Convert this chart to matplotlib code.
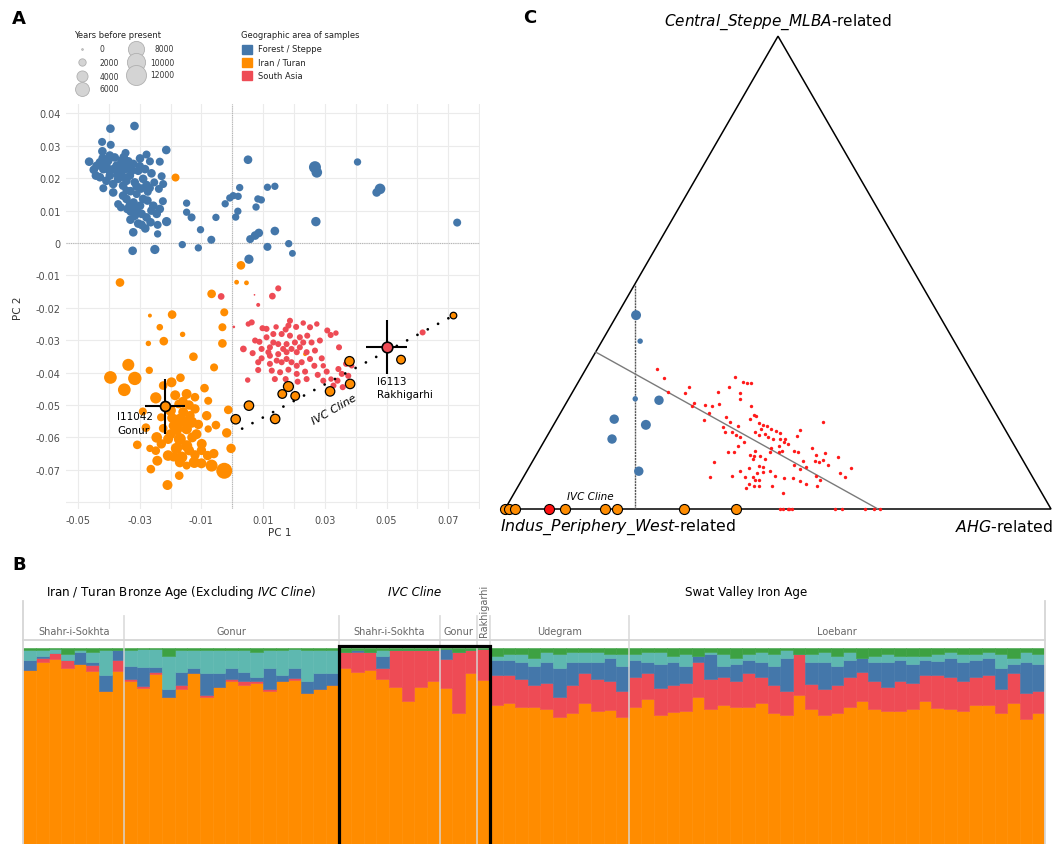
import numpy as np
import matplotlib
matplotlib.use("Agg")
import matplotlib.pyplot as plt
from matplotlib.patches import Rectangle, Polygon
from matplotlib.transforms import blended_transform_factory

W, H = 1055, 845
BLUE = "#4477aa"
ORANGE = "#ff8c00"
RED = "#ee4b55"
TEAL = "#5eb8b0"
GREEN = "#3da142"

# ---------------- panel A data: (PC1, PC2, years before present) ----------------
forest_steppe = [
    (-0.0395, 0.0353, 2600), (-0.0317, 0.0361, 2600), (-0.0422, 0.0312, 2300), (-0.0394, 0.0303, 2300),
    (-0.0421, 0.0283, 2600), (-0.0464, 0.0251, 2600), (-0.0214, 0.0287, 2600), (-0.0346, 0.0278, 2300),
    (-0.0278, 0.0273, 2300), (-0.0299, 0.0261, 2600), (-0.0235, 0.0251, 2300), (-0.0267, 0.0252, 2300),
    (-0.0449, 0.0226, 2600), (-0.0442, 0.0208, 2600), (-0.0408, 0.0239, 2600), (-0.0386, 0.0228, 2600),
    (-0.0364, 0.0218, 2600), (-0.0343, 0.0239, 2600), (-0.0321, 0.0244, 2600), (-0.0397, 0.0208, 2600),
    (-0.0370, 0.0198, 2600), (-0.0332, 0.0208, 2600), (-0.0289, 0.0198, 2600), (-0.0229, 0.0206, 2300),
    (-0.0418, 0.0169, 2300), (-0.0386, 0.0156, 2600), (-0.0343, 0.0162, 2300), (-0.0310, 0.0151, 2300),
    (-0.0274, 0.0158, 2300), (-0.0238, 0.0167, 2300), (-0.0224, 0.0182, 2300), (-0.0253, 0.0187, 2300),
    (-0.0370, 0.0120, 2300), (-0.0361, 0.0110, 2300), (-0.0332, 0.0117, 2600), (-0.0299, 0.0115, 2600),
    (-0.0275, 0.0131, 2600), (-0.0225, 0.0129, 2300), (-0.0329, 0.0097, 2600), (-0.0294, 0.0090, 2600),
    (-0.0245, 0.0090, 2600), (-0.0213, 0.0066, 2900), (-0.0330, 0.0072, 2600), (-0.0294, 0.0056, 2600),
    (-0.0265, 0.0064, 2600), (-0.0321, 0.0033, 2600), (-0.0242, 0.0028, 2000), (-0.0242, 0.0056, 2300),
    (-0.0323, -0.0024, 2600), (-0.0251, -0.0020, 2900), (-0.0148, 0.0123, 2000), (-0.0148, 0.0095, 2000),
    (-0.0132, 0.0079, 2300), (-0.0103, 0.0041, 2000), (-0.0053, 0.0079, 2000), (-0.0068, 0.0010, 2300),
    (-0.0162, -0.0005, 2000), (-0.0110, -0.0015, 2000), (0.0051, 0.0257, 2600), (0.0024, 0.0171, 2000),
    (-0.0023, 0.0121, 2000), (-0.0008, 0.0139, 2000), (0.0003, 0.0146, 2000), (0.0019, 0.0144, 2000),
    (0.0018, 0.0098, 2000), (0.0011, 0.0080, 2000), (0.0114, 0.0172, 2000), (0.0138, 0.0175, 2000),
    (0.0083, 0.0136, 2000), (0.0094, 0.0133, 2000), (0.0077, 0.0111, 2000), (0.0058, 0.0012, 2300),
    (0.0074, 0.0023, 2600), (0.0086, 0.0031, 2600), (0.0138, 0.0037, 2600), (0.0114, -0.0012, 2300),
    (0.0183, -0.0002, 2000), (0.0195, -0.0032, 1800), (0.0054, -0.0050, 2900), (0.0268, 0.0234, 4600),
    (0.0274, 0.0218, 3700), (0.0271, 0.0066, 3000), (0.0406, 0.0250, 2000), (0.0479, 0.0167, 3700),
    (0.0468, 0.0156, 2600), (0.0729, 0.0063, 2300),
    (-0.0429, 0.0249, 2600), (-0.0418, 0.0228, 2600), (-0.0402, 0.0254, 2600), (-0.0381, 0.0264, 2600),
    (-0.0359, 0.0254, 2600), (-0.0348, 0.0228, 2600), (-0.0326, 0.0223, 2600), (-0.0305, 0.0223, 2600),
    (-0.0283, 0.0228, 2600), (-0.0316, 0.0187, 2600), (-0.0354, 0.0177, 2600), (-0.0386, 0.0182, 2600),
    (-0.0408, 0.0192, 2600), (-0.0429, 0.0203, 2600), (-0.0310, 0.0175, 2600), (-0.0278, 0.0179, 2600),
    (-0.0343, 0.0192, 2600), (-0.0375, 0.0239, 2600), (-0.0397, 0.0270, 2600), (-0.0310, 0.0105, 2600),
    (-0.0316, 0.0084, 2600), (-0.0278, 0.0079, 2600), (-0.0343, 0.0136, 2600), (-0.0354, 0.0146, 2600),
    (-0.0256, 0.0115, 2600), (-0.0289, 0.0136, 2600), (-0.0235, 0.0105, 2600),
    (-0.0440, 0.0238, 2600), (-0.0420, 0.0262, 2600), (-0.0365, 0.0240, 2600), (-0.0352, 0.0265, 2600),
    (-0.0337, 0.0252, 2600), (-0.0300, 0.0237, 2600), (-0.0262, 0.0215, 2600), (-0.0372, 0.0212, 2600),
    (-0.0355, 0.0205, 2600), (-0.0296, 0.0168, 2600), (-0.0268, 0.0170, 2600), (-0.0320, 0.0125, 2600),
    (-0.0340, 0.0105, 2600), (-0.0262, 0.0100, 2600), (-0.0305, 0.0060, 2600), (-0.0282, 0.0045, 2600),
    (-0.0400, 0.0225, 2600), (-0.0330, 0.0160, 2600),
]

iran_turan = [
    (-0.0184, 0.0202, 2300), (-0.0364, -0.0122, 2600), (0.0028, -0.0069, 2600), (0.0014, -0.0121, 1100),
    (0.0046, -0.0123, 1100), (-0.0067, -0.0157, 2600), (-0.0195, -0.0221, 2600), (-0.0267, -0.0224, 900),
    (-0.0235, -0.0260, 1700), (-0.0026, -0.0214, 2300), (-0.0032, -0.0260, 2300), (0.0236, -0.0343, 900),
    (-0.0222, -0.0303, 2600), (-0.0161, -0.0282, 1300), (-0.0272, -0.0310, 1300), (-0.0126, -0.0351, 2600),
    (-0.0337, -0.0376, 4600), (-0.0269, -0.0393, 2000), (-0.0395, -0.0415, 5100), (-0.0316, -0.0418, 5600),
    (-0.0350, -0.0453, 5100), (-0.0224, -0.0440, 2600), (-0.0168, -0.0416, 2600), (-0.0197, -0.0430, 3300),
    (-0.0059, -0.0384, 2300), (-0.0032, -0.0310, 2600), (-0.0090, -0.0448, 2600), (-0.0248, -0.0478, 4100),
    (-0.0148, -0.0466, 3300), (-0.0121, -0.0476, 2600), (-0.0078, -0.0487, 2300), (-0.0174, -0.0497, 2600),
    (-0.0121, -0.0512, 3000), (-0.0200, -0.0517, 3700), (-0.0083, -0.0533, 3000), (-0.0231, -0.0538, 2300),
    (-0.0170, -0.0548, 5600), (-0.0132, -0.0553, 4100), (-0.0053, -0.0562, 2600), (-0.0078, -0.0574, 2000),
    (-0.0018, -0.0586, 3000), (-0.0224, -0.0572, 2600), (-0.0245, -0.0600, 3700), (-0.0208, -0.0605, 3300),
    (-0.0170, -0.0605, 4600), (-0.0116, -0.0590, 3300), (-0.0181, -0.0634, 4100), (-0.0148, -0.0626, 4100),
    (-0.0099, -0.0620, 3300), (-0.0308, -0.0623, 2600), (-0.0267, -0.0634, 2000), (-0.0248, -0.0641, 2600),
    (-0.0208, -0.0656, 3700), (-0.0164, -0.0661, 4100), (-0.0121, -0.0654, 3000), (-0.0080, -0.0656, 3000),
    (-0.0243, -0.0672, 3300), (-0.0170, -0.0677, 3300), (-0.0123, -0.0677, 4100), (-0.0067, -0.0687, 4600),
    (-0.0026, -0.0703, 7800), (-0.0148, -0.0687, 2300), (-0.0264, -0.0698, 2600), (-0.0172, -0.0718, 2600),
    (-0.0210, -0.0747, 3300), (-0.0013, -0.0515, 2600), (-0.0004, -0.0634, 3000), (-0.0181, -0.0574, 4600),
    (-0.0148, -0.0574, 3700), (-0.0159, -0.0522, 3300), (-0.0191, -0.0564, 3000), (-0.0137, -0.0533, 3000),
    (-0.0185, -0.0470, 3300), (-0.0160, -0.0490, 3300), (-0.0140, -0.0500, 3000), (-0.0195, -0.0540, 3300),
    (-0.0150, -0.0550, 3300), (-0.0110, -0.0560, 3000), (-0.0200, -0.0590, 3300), (-0.0130, -0.0600, 3300),
    (-0.0100, -0.0640, 3000), (-0.0190, -0.0660, 3000), (-0.0140, -0.0640, 3300), (-0.0100, -0.0680, 3300),
    (-0.0280, -0.0570, 2600), (-0.0290, -0.0520, 2300), (-0.0060, -0.0650, 3000), (-0.0230, -0.0620, 3000),
]

south_asia = [
    (0.0084, -0.0191, 900), (0.0063, -0.0245, 1500), (0.0052, -0.0250, 1300), (0.0098, -0.0263, 1500),
    (0.0142, -0.0259, 1300), (0.0173, -0.0267, 1500), (0.0207, -0.0259, 1500), (0.0230, -0.0247, 1300),
    (0.0252, -0.0260, 1500), (0.0274, -0.0250, 1300), (0.0243, -0.0286, 1500), (0.0219, -0.0291, 1500),
    (0.0187, -0.0286, 1500), (0.0160, -0.0281, 1500), (0.0133, -0.0281, 1500), (0.0111, -0.0291, 1500),
    (0.0088, -0.0305, 1500), (0.0036, -0.0327, 1740), (0.0066, -0.0340, 1500), (0.0095, -0.0327, 1500),
    (0.0122, -0.0322, 1500), (0.0149, -0.0312, 1500), (0.0176, -0.0312, 1500), (0.0203, -0.0307, 1500),
    (0.0230, -0.0307, 1500), (0.0257, -0.0307, 1500), (0.0284, -0.0301, 1500), (0.0308, -0.0270, 1500),
    (0.0319, -0.0284, 1500), (0.0336, -0.0278, 1300), (0.0346, -0.0322, 1500), (0.0268, -0.0332, 1500),
    (0.0241, -0.0337, 1500), (0.0209, -0.0337, 1500), (0.0176, -0.0337, 1500), (0.0149, -0.0343, 1500),
    (0.0122, -0.0348, 1500), (0.0095, -0.0356, 1500), (0.0084, -0.0368, 1500), (0.0122, -0.0373, 1500),
    (0.0160, -0.0368, 1500), (0.0192, -0.0368, 1500), (0.0225, -0.0368, 1500), (0.0252, -0.0358, 1500),
    (0.0290, -0.0356, 1500), (0.0295, -0.0379, 1300), (0.0266, -0.0379, 1500), (0.0128, -0.0394, 1500),
    (0.0155, -0.0399, 1500), (0.0182, -0.0391, 1500), (0.0209, -0.0404, 1500), (0.0236, -0.0397, 1500),
    (0.0084, -0.0392, 1500), (0.0138, -0.0420, 1500), (0.0173, -0.0420, 1500), (0.0212, -0.0428, 1500),
    (0.0241, -0.0420, 1500), (0.0277, -0.0407, 1500), (0.0306, -0.0397, 1500), (0.0295, -0.0425, 1500),
    (0.0320, -0.0420, 1300), (0.0344, -0.0389, 1500), (0.0341, -0.0425, 1500), (0.0355, -0.0404, 1500),
    (0.0369, -0.0373, 1500), (0.0387, -0.0379, 1300), (0.0358, -0.0445, 1500), (0.0050, -0.0423, 1300),
    (0.0111, -0.0265, 1500), (0.0074, -0.0301, 1500), (0.0187, -0.0240, 1500), (0.0182, -0.0255, 1500),
    (0.0328, -0.0440, 1500), (0.0376, -0.0410, 1500), (0.0005, -0.0259, 650), (0.0133, -0.0307, 1500),
    (0.0165, -0.0327, 1500), (0.0192, -0.0327, 1500), (0.0219, -0.0322, 1500), (0.0144, -0.0363, 1500),
    (0.0176, -0.0358, 1500), (0.0209, -0.0379, 1500), (0.0117, -0.0337, 1500), (-0.0036, -0.0165, 1740),
    (0.0130, -0.0164, 1740), (0.0149, -0.0140, 1500), (0.0072, -0.0160, 100), (0.0617, -0.0276, 1500),
]

ivc_cline = [
    (0.0717, -0.0224, 1700), (0.0380, -0.0365, 3000), (0.0547, -0.0360, 2600), (0.0382, -0.0435, 3000),
    (0.0317, -0.0458, 3000), (0.0182, -0.0443, 3300), (0.0162, -0.0466, 2600), (0.0204, -0.0472, 2600),
    (0.0054, -0.0502, 3000), (0.0011, -0.0544, 3000), (0.0139, -0.0543, 3000),
]
cline_pc1 = [0.0032, 0.0717]
cline_pc2 = [-0.0573, -0.0224]

i11042 = (-0.0218, -0.0504, 3300)
i11042_err = (0.0065, 0.0084)
i6113 = (0.0500, -0.0320, 3700)
i6113_err = (0.0065, 0.0083)

legend_years = [0, 2000, 4000, 6000, 8000, 10000, 12000]
areas = ["Forest / Steppe", "Iran / Turan", "South Asia"]

# ---------------- panel C data: (Central_Steppe_MLBA, AHG) proportions ----------------
tern_blue = [(0.410, 0.035, 3300), (0.355, 0.070, 1300), (0.233, 0.122, 1300), (0.230, 0.167, 3000),
             (0.190, 0.105, 3000), (0.178, 0.169, 3300), (0.148, 0.122, 3000), (0.080, 0.205, 3000)]
tern_red = [
    (0.296, 0.130), (0.278, 0.152), (0.247, 0.175), (0.257, 0.209), (0.245, 0.207), (0.224, 0.234),
    (0.218, 0.233), (0.221, 0.255), (0.218, 0.271), (0.222, 0.280), (0.247, 0.267), (0.204, 0.272),
    (0.188, 0.271), (0.257, 0.282), (0.280, 0.281), (0.268, 0.301), (0.266, 0.310), (0.266, 0.318),
    (0.245, 0.307), (0.233, 0.314), (0.195, 0.308), (0.183, 0.320), (0.173, 0.313), (0.163, 0.322),
    (0.162, 0.335), (0.152, 0.355), (0.141, 0.367), (0.134, 0.360), (0.120, 0.360), (0.121, 0.347),
    (0.217, 0.342), (0.199, 0.356), (0.197, 0.361), (0.190, 0.354), (0.182, 0.375), (0.178, 0.383),
    (0.176, 0.391), (0.169, 0.385), (0.162, 0.377), (0.156, 0.388), (0.159, 0.397), (0.169, 0.403),
    (0.166, 0.413), (0.161, 0.423), (0.152, 0.406), (0.148, 0.417), (0.149, 0.430), (0.149, 0.438),
    (0.137, 0.450), (0.168, 0.456), (0.155, 0.457), (0.185, 0.489), (0.120, 0.442), (0.121, 0.477),
    (0.102, 0.495), (0.128, 0.498), (0.114, 0.513), (0.102, 0.517), (0.118, 0.527), (0.099, 0.525),
    (0.093, 0.545), (0.109, 0.556), (0.076, 0.576), (0.086, 0.591), (0.067, 0.590), (0.062, 0.546),
    (0.049, 0.546), (0.053, 0.525), (0.060, 0.510), (0.094, 0.482), (0.065, 0.478), (0.034, 0.493),
    (0.069, 0.460), (0.049, 0.465), (0.081, 0.444), (0.088, 0.429), (0.106, 0.424), (0.113, 0.411),
    (0.121, 0.425), (0.123, 0.396), (0.113, 0.399), (0.114, 0.391), (0.106, 0.402), (0.092, 0.420),
    (0.078, 0.434), (0.076, 0.423), (0.067, 0.421), (0.062, 0.427), (0.061, 0.435), (0.049, 0.440),
    (0.049, 0.431), (0.053, 0.420), (0.044, 0.419), (0.067, 0.406), (0.081, 0.389), (0.069, 0.381),
    (0.100, 0.333), (0.068, 0.341), (0.086, 0.404), (0.066, 0.494), (0.085, 0.498), (0.088, 0.507),
    (0.104, 0.531), (0.123, 0.468), (0.130, 0.423), (0.123, 0.446), (0.134, 0.434), (0.141, 0.440),
    (0.176, 0.339), (0.156, 0.345), (0.070, 0.534),
]
tern_red_base_ahg = [0.504, 0.510, 0.518, 0.521, 0.525, 0.605, 0.617, 0.659, 0.676, 0.686]
tern_orange_ahg = [0.0, 0.008, 0.018, 0.110, 0.183, 0.205, 0.328, 0.423]
tern_rakhigarhi_ahg = 0.081
tern_vline = [(0.0, 0.238), (0.476, 0.0)]
tern_fit = [(0.332, 0.0), (0.0, 0.683)]

# ---------------- panel B data: ancestry proportions per individual ----------------
site_names = ["Shahr-i-Sokhta", "Gonur", "Shahr-i-Sokhta", "Gonur", "Rakhigarhi", "Udegram", "Loebanr"]
site_counts = [8, 17, 8, 3, 1, 11, 33]
anc_orange = [
    .89, .93, .95, .90, .92, .89, .78, .89,
    .83, .80, .87, .75, .79, .87, .76, .80, .83, .81, .82, .78, .83, .84, .77, .79, .81,
    .90, .88, .89, .84, .80, .73, .80, .83,
    .80, .67, .87,
    .84,
    .71, .72, .70, .70, .69, .65, .67, .72, .68, .69, .65,
    .70, .74, .65, .68, .68, .75, .69, .71, .70, .70, .72, .67, .66, .76, .68, .66, .67,
    .70, .73, .69, .68, .68, .69, .73, .71, .69, .68, .71, .71, .67, .72, .64, .67,
]
anc_red = [
    0, .02, .03, .04, 0, .03, 0, .06,
    .01, .01, .01, 0, .02, 0, .01, 0, .01, .02, .01, .01, 0, .01, 0, 0, 0,
    .08, .10, .09, .06, .19, .26, .19, .16,
    .15, .31, .12,
    .16,
    .15, .14, .14, .11, .13, .10, .14, .15, .16, .15, .13,
    .15, .13, .14, .14, .14, .18, .15, .14, .13, .17, .13, .14, .12, .21, .13, .13, .14,
    .15, .15, .14, .12, .15, .13, .13, .17, .16, .15, .14, .15, .12, .15, .13, .11,
]
anc_blue = [
    .05, .01, 0, 0, .06, .02, .08, .05,
    .07, .10, .03, .04, .07, .03, .11, .07, .06, .05, .02, .11, .03, .05, .06, .08, .06,
    0, .01, 0, .06, 0, 0, 0, 0,
    .05, 0, 0,
    0,
    .08, .08, .09, .10, .11, .15, .12, .06, .09, .12, .13,
    .09, .06, .12, .12, .09, .03, .13, .06, .09, .07, .08, .10, .17, 0, .11, .14, .10,
    .09, .07, .10, .13, .11, .10, .08, .07, .10, .10, .09, .09, .11, .05, .16, .14,
]
anc_teal = [
    .05, .03, .02, .03, .01, .05, .13, 0,
    .08, .09, .09, .17, .11, .09, .12, .12, .09, .11, .13, .09, .13, .10, .16, .12, .12,
    0, 0, 0, .03, 0, 0, 0, 0,
    0, 0, 0,
    0,
    .02, .03, .04, .04, .05, .07, .05, .05, .05, .02, .06,
    .03, .05, .06, .03, .06, 0, .01, .06, .03, .03, .05, .06, .04, 0, .04, .05, .05,
    .04, 0, .03, .04, .02, .04, .02, .04, .03, .04, .03, .03, .07, .03, .05, .05,
]
anc_green = [
    .01, .01, .005, .03, .01, .02, .01, .01,
    .01, .005, .005, .04, .01, .01, .01, .01, .01, .01, .02, .01, .01, .005, .01, .01, .01,
    .02, .01, .02, .01, .01, .01, .01, .01,
    .005, .02, .01,
    .005,
    .04, .03, .03, .05, .02, .03, .02, .02, .02, .03, .03,
    .03, .02, .02, .04, .03, .04, .02, .03, .05, .03, .02, .03, .01, .03, .03, .02, .04,
    .02, .05, .04, .03, .04, .04, .04, .03, .02, .03, .03, .02, .03, .05, .02, .03,
]


def yrs_to_size(years):
    return np.maximum(0.018 * np.asarray(years, dtype=float) - 8, 1.5)


def fig_x(px):
    return px / W


def fig_y(py):
    return 1 - py / H


def tern_xy(steppe, ahg):
    steppe = np.asarray(steppe, dtype=float)
    ahg = np.asarray(ahg, dtype=float)
    return ahg + steppe / 2, steppe * np.sqrt(3) / 2


fig = plt.figure(figsize=(W / 100, H / 100), dpi=100)

# ======================= panel A =======================
axA = fig.add_axes([fig_x(66), fig_y(510), 414 / W, 405 / H])
axA.set_xlim(-0.0539, 0.0803)
axA.set_ylim(-0.0821, 0.0429)
axA.set_xticks([-0.05, -0.03, -0.01, 0.01, 0.03, 0.05, 0.07])
axA.set_xticks([-0.04, -0.02, 0.0, 0.02, 0.04, 0.06, 0.08], minor=True)
axA.set_xticklabels(["-0.05", "-0.03", "-0.01", "0.01", "0.03", "0.05", "0.07"])
yt = [0.04, 0.03, 0.02, 0.01, 0.0, -0.01, -0.02, -0.03, -0.04, -0.05, -0.06, -0.07, -0.08]
axA.set_yticks(yt)
axA.set_yticklabels(["0" if v == 0 else "%.2f" % v for v in yt[:-1]] + [""])
axA.tick_params(which="both", length=0, labelsize=7, labelcolor="#4d4d4d", pad=4)
axA.grid(True, which="both", color="#ebebeb", lw=0.8)
axA.set_axisbelow(True)
for s in axA.spines.values():
    s.set_visible(False)
axA.axvline(0, color="#b5b5b5", lw=0.8, ls=(0, (1, 1)), zorder=1)
axA.axhline(0, color="#b5b5b5", lw=0.8, ls=(0, (1, 1)), zorder=1)

for pts, col in [(forest_steppe, BLUE), (iran_turan, ORANGE), (south_asia, RED)]:
    a = np.array(pts)
    axA.scatter(a[:, 0], a[:, 1], s=yrs_to_size(a[:, 2]), color=col, lw=0, zorder=2)

cl = np.array(ivc_cline)
axA.scatter(cl[:, 0], cl[:, 1], s=yrs_to_size(cl[:, 2]), color=ORANGE, edgecolor="black", lw=0.9, zorder=4)
axA.plot(cline_pc1, cline_pc2, color="black", lw=2, ls=(0, (0.01, 4.2)), dash_capstyle="round", zorder=5)

for (px, py, yr), (ex, ey), col in [(i11042, i11042_err, ORANGE), (i6113, i6113_err, RED)]:
    axA.errorbar([px], [py], xerr=[ex], yerr=[ey], fmt="none", ecolor="black", elinewidth=1.5, capsize=0, zorder=6)
    axA.scatter([px], [py], s=yrs_to_size([yr]), color=col, edgecolor="black", lw=1.2, zorder=7)

axA.text(-0.0374, -0.0519, "I11042\nGonur", fontsize=7.5, va="top", ha="left", linespacing=1.45, zorder=8)
axA.text(0.0468, -0.0410, "I6113\nRakhigarhi", fontsize=7.5, va="top", ha="left", linespacing=1.45, zorder=8)
axA.text(0.0331, -0.0512, "IVC Cline", fontsize=8, style="italic", rotation=30, ha="center", va="center", zorder=8)

fig.text(fig_x(280), fig_y(533), "PC 1", fontsize=7.5, color="#333333", ha="center", va="center")
fig.text(fig_x(18), fig_y(308), "PC 2", fontsize=7.5, color="#333333", ha="center", va="center", rotation=90)

# legend for panel A (drawn on a figure-sized overlay in pixel units)
ov = fig.add_axes([0, 0, 1, 1], zorder=10)
ov.set_xlim(0, W)
ov.set_ylim(H, 0)
ov.axis("off")
ov.text(74, 35, "Years before present", fontsize=6, color="#222222", va="center")
leg_pos = [(82, 50), (82, 63), (82, 77), (82, 90), (136, 50), (136, 63), (136, 76)]
for (lx, ly), yr in zip(leg_pos, legend_years):
    ov.scatter([lx], [ly], s=yrs_to_size([yr]), facecolor="#d4d4d4", edgecolor="#b0b0b0", lw=0.6)
    if lx < 100:
        ov.text(100, ly, str(yr), fontsize=5.5, color="#333333", va="center", ha="left")
    else:
        ov.text(174, ly, str(yr), fontsize=5.5, color="#333333", va="center", ha="right")
ov.text(241, 35, "Geographic area of samples", fontsize=6, color="#222222", va="center")
for i, (lab, col) in enumerate(zip(areas, [BLUE, ORANGE, RED])):
    ly = 50 + i * 13.3
    ov.add_patch(Rectangle((242, ly - 4.5), 10, 9, color=col))
    ov.text(258, ly, lab, fontsize=6, color="#222222", va="center", ha="left")

# ======================= panel C =======================
axC = fig.add_axes([fig_x(490), fig_y(545), 565 / W, 535 / H])
axC.set_xlim(-0.0275, 1.0073)
axC.set_ylim(-0.0641, 0.9158)
axC.axis("off")
vx, vy = tern_xy([0, 0, 1], [0, 1, 0])
axC.add_patch(Polygon(np.column_stack([vx, vy]), closed=True, fill=False, edgecolor="black", lw=1.1, zorder=1))

lx, ly = tern_xy([p[0] for p in tern_vline], [p[1] for p in tern_vline])
axC.plot(lx, ly, color="#555555", lw=1.0, ls=(0, (1.5, 0.6)), zorder=2)
fx_, fy_ = tern_xy([p[0] for p in tern_fit], [p[1] for p in tern_fit])
axC.plot(fx_, fy_, color="#7a7a7a", lw=1.0, zorder=2)

tb = np.array(tern_blue)
bx, by = tern_xy(tb[:, 0], tb[:, 1])
axC.scatter(bx, by, s=yrs_to_size(tb[:, 2]), color=BLUE, lw=0, zorder=3)
tr = np.array(tern_red)
rx, ry = tern_xy(tr[:, 0], tr[:, 1])
axC.scatter(rx, ry, s=6, color="#ff1a1a", lw=0, zorder=3)
rbx, rby = tern_xy(np.zeros(len(tern_red_base_ahg)), tern_red_base_ahg)
axC.scatter(rbx, rby, s=6, color="#ff1a1a", lw=0, zorder=4)
ox, oy = tern_xy(np.zeros(len(tern_orange_ahg)), tern_orange_ahg)
axC.scatter(ox, oy, s=52, color=ORANGE, edgecolor="black", lw=0.8, zorder=5, clip_on=False)
kx, ky = tern_xy([0], [tern_rakhigarhi_ahg])
axC.scatter(kx, ky, s=52, color="#ff1010", edgecolor="black", lw=0.8, zorder=5)

axC.text(0.156, 0.024, "IVC Cline", fontsize=7.5, style="italic", ha="center", va="center")
axC.text(0.5, 0.894, r"$\mathit{Central\_Steppe\_MLBA}$-related", fontsize=11, ha="center", va="center")
axC.text(0.207, -0.031, r"$\mathit{Indus\_Periphery\_West}$-related", fontsize=11.3, ha="center", va="center")
axC.text(0.914, -0.031, r"$\mathit{AHG}$-related", fontsize=11.3, ha="center", va="center")

# ======================= panel B =======================
axB = fig.add_axes([fig_x(23.3), 0, (1045 - 23.3) / W, 196 / H])
comps = np.array([anc_orange, anc_red, anc_blue, anc_teal, anc_green], dtype=float)
comps = comps / comps.sum(axis=0)
xb = np.arange(comps.shape[1])
bottom = np.zeros(comps.shape[1])
for vals, col in zip(comps, [ORANGE, RED, BLUE, TEAL, GREEN]):
    axB.bar(xb, vals, bottom=bottom, width=1.0, align="edge", color=col, edgecolor=col, lw=0.4)
    bottom += vals
axB.set_xlim(0, comps.shape[1])
axB.set_ylim(0, 1)
axB.axis("off")

tr_b = blended_transform_factory(axB.transData, axB.transAxes)
edges = np.concatenate([[0], np.cumsum(site_counts)])
for e in edges[1:-1]:
    axB.plot([e, e], [0, 1.163], transform=tr_b, color="#d6d6d6", lw=1.3, alpha=0.8, clip_on=False, zorder=3)
for e in [edges[0], edges[-1]]:
    axB.plot([e, e], [0, 1.24], transform=tr_b, color="#d6d6d6", lw=1.3, clip_on=False, zorder=3)
axB.plot([0, edges[-1]], [1.041, 1.041], transform=tr_b, color="#d6d6d6", lw=1.3, clip_on=False)

for name, a, b in zip(site_names, edges[:-1], edges[1:]):
    if name == "Rakhigarhi":
        axB.text((a + b) / 2, 1.06, name, transform=tr_b, rotation=90, fontsize=7, color="#666666",
                 ha="center", va="bottom")
    else:
        axB.text((a + b) / 2, 1.087, name, transform=tr_b, fontsize=7, color="#666666",
                 ha="center", va="center")

axB.text(edges[2] / 2, 1.286, r"Iran / Turan Bronze Age (Excluding $\mathit{IVC\ Cline}$)", transform=tr_b,
         fontsize=8.6, ha="center", va="center")
axB.text((edges[2] + edges[5]) / 2, 1.286, "IVC Cline", style="italic", transform=tr_b,
         fontsize=8.6, ha="center", va="center")
axB.text(57.3, 1.286, "Swat Valley Iron Age", transform=tr_b, fontsize=8.6, ha="center", va="center")
axB.add_patch(Rectangle((edges[2], -0.05), edges[5] - edges[2], 1.06, transform=tr_b, fill=False,
                        edgecolor="black", lw=2.3, clip_on=False, zorder=5))

# panel letters
fig.text(fig_x(19), fig_y(19), "A", fontsize=13, fontweight="bold", ha="center", va="center")
fig.text(fig_x(19), fig_y(565), "B", fontsize=13, fontweight="bold", ha="center", va="center")
fig.text(fig_x(530), fig_y(18), "C", fontsize=13, fontweight="bold", ha="center", va="center")

fig.savefig("out.png", dpi=100)
